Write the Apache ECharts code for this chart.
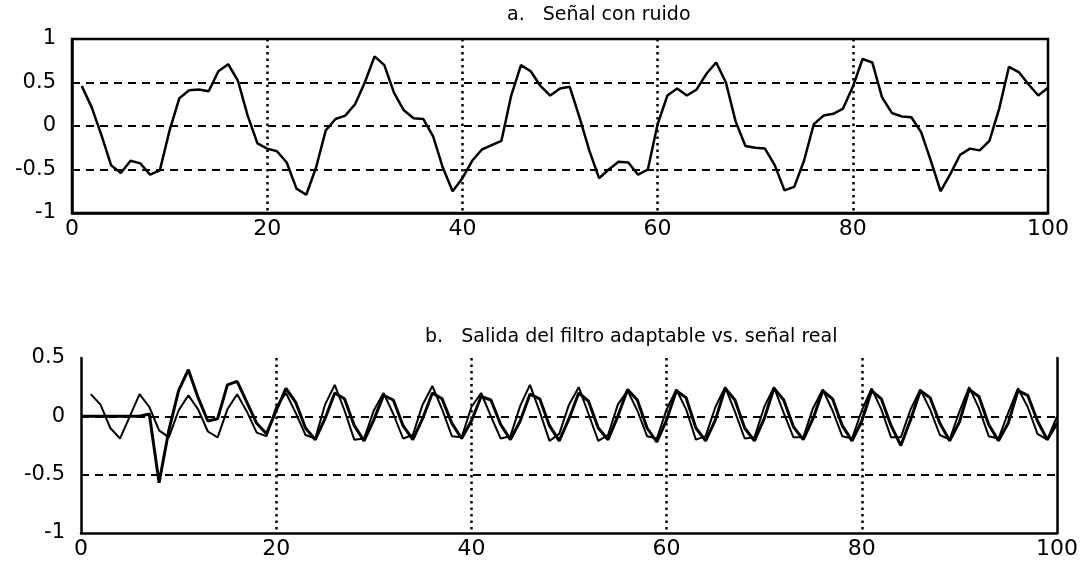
<!DOCTYPE html>
<html>
<head>
<meta charset="utf-8">
<script src="https://cdn.jsdelivr.net/npm/echarts@6/dist/echarts.min.js"></script>
<style>html,body{margin:0;padding:0;background:#fff}#c{width:1091px;height:563px}</style>
</head>
<body>
<div id="c"></div>
<script>
// ---- Data ----
const xTicks = [0, 20, 40, 60, 80, 100];
const titleA = 'a.   Señal con ruido';
const titleB = 'b.   Salida del filtro adaptable vs. señal real';

// Panel a: noisy signal, samples n = 1..100
const noisySignal = [
  0.46, 0.22, -0.10, -0.45, -0.54, -0.40, -0.43, -0.56, -0.51, -0.05,
  0.32, 0.41, 0.42, 0.40, 0.63, 0.71, 0.52, 0.12, -0.20, -0.26,
  -0.29, -0.42, -0.72, -0.79, -0.48, -0.05, 0.08, 0.12, 0.25, 0.50,
  0.80, 0.70, 0.38, 0.18, 0.09, 0.08, -0.12, -0.48, -0.75, -0.60,
  -0.40, -0.27, -0.22, -0.17, 0.35, 0.70, 0.63, 0.46, 0.35, 0.43,
  0.45, 0.10, -0.28, -0.60, -0.50, -0.41, -0.42, -0.56, -0.50, 0.02,
  0.35, 0.43, 0.35, 0.42, 0.60, 0.73, 0.50, 0.05, -0.23, -0.25,
  -0.26, -0.45, -0.74, -0.70, -0.40, 0.02, 0.12, 0.14, 0.20, 0.45,
  0.77, 0.73, 0.33, 0.15, 0.11, 0.10, -0.07, -0.40, -0.75, -0.55,
  -0.33, -0.26, -0.28, -0.17, 0.20, 0.68, 0.62, 0.48, 0.35, 0.44
];

// Panel b: real signal (thin line), samples n = 1..100
const realSignal = [
  0.19, 0.10, -0.10, -0.19, 0.00, 0.19, 0.08, -0.12, -0.18, 0.05,
  0.18, 0.06, -0.13, -0.18, 0.06, 0.19, 0.04, -0.14, -0.17, 0.08,
  0.20, 0.03, -0.16, -0.19, 0.10, 0.27, 0.05, -0.20, -0.19, 0.05,
  0.20, 0.02, -0.19, -0.16, 0.10, 0.26, 0.06, -0.17, -0.18, 0.08,
  0.20, 0.00, -0.19, -0.17, 0.09, 0.27, 0.04, -0.21, -0.15, 0.10,
  0.25, 0.02, -0.21, -0.16, 0.10, 0.22, 0.05, -0.17, -0.19, 0.06,
  0.23, 0.06, -0.20, -0.17, 0.08, 0.25, 0.04, -0.19, -0.18, 0.08,
  0.25, 0.03, -0.18, -0.18, 0.07, 0.23, 0.05, -0.17, -0.19, 0.05,
  0.24, 0.06, -0.18, -0.18, 0.06, 0.23, 0.06, -0.16, -0.20, 0.04,
  0.25, 0.07, -0.17, -0.19, 0.03, 0.24, 0.08, -0.15, -0.20, 0.00
];

// Panel b: adaptive filter output (thick line), samples n = 0..100
const filterOutput = [
  0.00,
  0.00, 0.00, 0.00, 0.00, 0.00, 0.00, 0.02, -0.57, -0.12, 0.22,
  0.40, 0.16, -0.04, -0.02, 0.27, 0.30, 0.12, -0.06, -0.15, 0.05,
  0.24, 0.12, -0.10, -0.20, -0.02, 0.20, 0.15, -0.08, -0.21, -0.03,
  0.18, 0.14, -0.08, -0.20, -0.02, 0.20, 0.15, -0.06, -0.19, -0.04,
  0.17, 0.14, -0.07, -0.20, -0.04, 0.19, 0.15, -0.08, -0.21, -0.02,
  0.20, 0.13, -0.10, -0.20, 0.00, 0.23, 0.14, -0.10, -0.22, -0.03,
  0.22, 0.16, -0.10, -0.21, -0.03, 0.24, 0.14, -0.10, -0.21, -0.02,
  0.24, 0.14, -0.09, -0.20, -0.02, 0.22, 0.15, -0.08, -0.21, -0.04,
  0.22, 0.15, -0.08, -0.25, -0.03, 0.22, 0.16, -0.06, -0.21, -0.05,
  0.23, 0.17, -0.07, -0.21, -0.06, 0.22, 0.18, -0.04, -0.20, -0.06
];

// ---- Build ----
const toXY = (arr, start) => arr.map((v, i) => [i + start, v]);
const FONT = 'DejaVu Sans';
const chart = echarts.init(document.getElementById('c'), null, {renderer: 'canvas'});

const xAxisBase = (gi) => ({
  type: 'value', gridIndex: gi, min: xTicks[0], max: xTicks[xTicks.length - 1], interval: 20,
  axisLine: {show: true, onZero: false, lineStyle: {color: '#000', width: 2.5}},
  axisTick: {show: false},
  axisLabel: {color: '#000', fontFamily: FONT, fontSize: 22, margin: 5},
  splitLine: {show: true, showMinLine: false, showMaxLine: false,
              lineStyle: {color: '#000', width: 2.5, type: [2.5, 4]}}
});
const yAxisBase = (gi, min, max) => ({
  type: 'value', gridIndex: gi, min: min, max: max, interval: 0.5,
  axisLine: {show: true, onZero: false, lineStyle: {color: '#000', width: 2.5}},
  axisTick: {show: false},
  axisLabel: {color: '#000', fontFamily: FONT, fontSize: 21, margin: 16},
  splitLine: {show: true, showMinLine: false, showMaxLine: false,
              lineStyle: {color: '#000', width: 2, type: [8, 6]}}
});

chart.setOption({
  animation: false,
  backgroundColor: '#fff',
  title: [
    {text: titleA, left: 502, top: 1, textStyle: {fontFamily: FONT, fontSize: 19, fontWeight: 'normal', color: '#000'}},
    {text: titleB, left: 420, top: 323, textStyle: {fontFamily: FONT, fontSize: 19, fontWeight: 'normal', color: '#000'}}
  ],
  grid: [
    {left: 72, right: 43, top: 39, height: 174, show: true, borderColor: '#000', borderWidth: 2.5, backgroundColor: 'transparent'},
    {left: 81, right: 34, top: 358, height: 175}
  ],
  xAxis: [xAxisBase(0), xAxisBase(1)],
  yAxis: [
    yAxisBase(0, -1, 1),
    yAxisBase(1, -1, 0.5),
    {type: 'value', gridIndex: 1, position: 'right', min: -1, max: 0.5, interval: 0.5,
     axisLine: {show: true, onZero: false, lineStyle: {color: '#000', width: 2.5}},
     axisTick: {show: false}, axisLabel: {show: false}, splitLine: {show: false}}
  ],
  series: [
    {type: 'line', xAxisIndex: 0, yAxisIndex: 0, data: toXY(noisySignal, 1), showSymbol: false,
     lineStyle: {color: '#000', width: 2.5}},
    {type: 'line', xAxisIndex: 1, yAxisIndex: 1, data: toXY(realSignal, 1), showSymbol: false,
     lineStyle: {color: '#000', width: 2}},
    {type: 'line', xAxisIndex: 1, yAxisIndex: 1, data: toXY(filterOutput, 0), showSymbol: false,
     lineStyle: {color: '#000', width: 3}}
  ]
});
</script>
</body>
</html>
